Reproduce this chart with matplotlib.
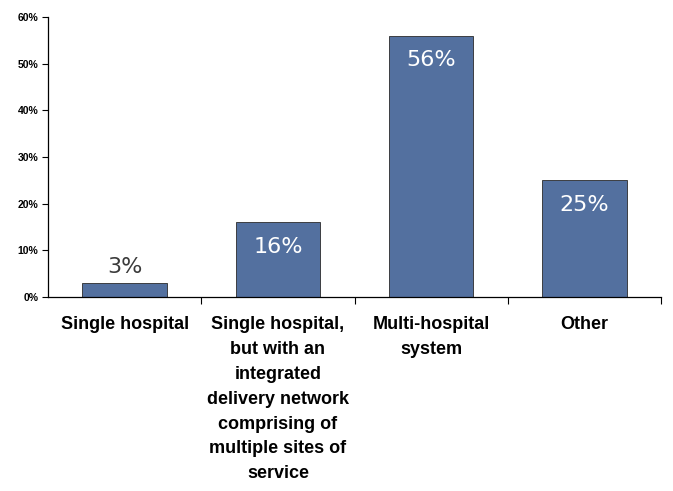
import matplotlib
matplotlib.use('Agg')
import numpy as np
from matplotlib import pyplot as plt
from matplotlib.ticker import FixedLocator, PercentFormatter

categories = ['Single hospital',
              'Single hospital,\nbut with an\nintegrated\ndelivery network\ncomprising of\nmultiple sites of\nservice',
              'Multi-hospital\nsystem',
              'Other']
values = [3, 16, 56, 25]
y_ticks = [0, 10, 20, 30, 40, 50, 60]

BAR_COLOR = '#53709f'

fig = plt.figure(figsize=(6.73, 4.91), dpi=100)
ax = fig.add_axes([0.0713, 0.395, 0.911, 0.570])

x = np.arange(len(categories))
ax.bar(x, values, width=0.55, color=BAR_COLOR, edgecolor='#2b2b2b', linewidth=0.6)

ax.set_xlim(-0.5, len(categories) - 0.5)
ax.set_ylim(0, 60)

# tick marks on the category boundaries, labels at the centres
ax.set_xticks(x)
ax.set_xticklabels(categories, fontsize=13, fontweight='bold',
                   family='Liberation Sans', linespacing=1.6, va='top')
ax.tick_params(axis='x', which='major', length=0, pad=14)
ax.xaxis.set_minor_locator(FixedLocator(list(x + 0.5)))
ax.tick_params(axis='x', which='minor', length=5, width=0.8, direction='out')

ax.set_yticks(y_ticks)
ax.yaxis.set_major_formatter(PercentFormatter(decimals=0))
ax.tick_params(axis='y', length=4, width=0.8, labelsize=7.5, pad=3)
for lbl in ax.get_yticklabels():
    lbl.set_fontweight('bold')
    lbl.set_family('Liberation Sans')

ax.spines['top'].set_visible(False)
ax.spines['right'].set_visible(False)
ax.spines['left'].set_linewidth(0.9)
ax.spines['bottom'].set_linewidth(0.9)

for xi, v in zip(x, values):
    if v < 10:
        ax.text(xi, v + 3.4, f'{v}%', ha='center', va='center', fontsize=16,
                color='#3a3a3a', family='DejaVu Sans')
    else:
        ax.text(xi, v - 5.2, f'{v}%', ha='center', va='center', fontsize=16,
                color='white', family='DejaVu Sans')

fig.savefig('out.png', dpi=100)
